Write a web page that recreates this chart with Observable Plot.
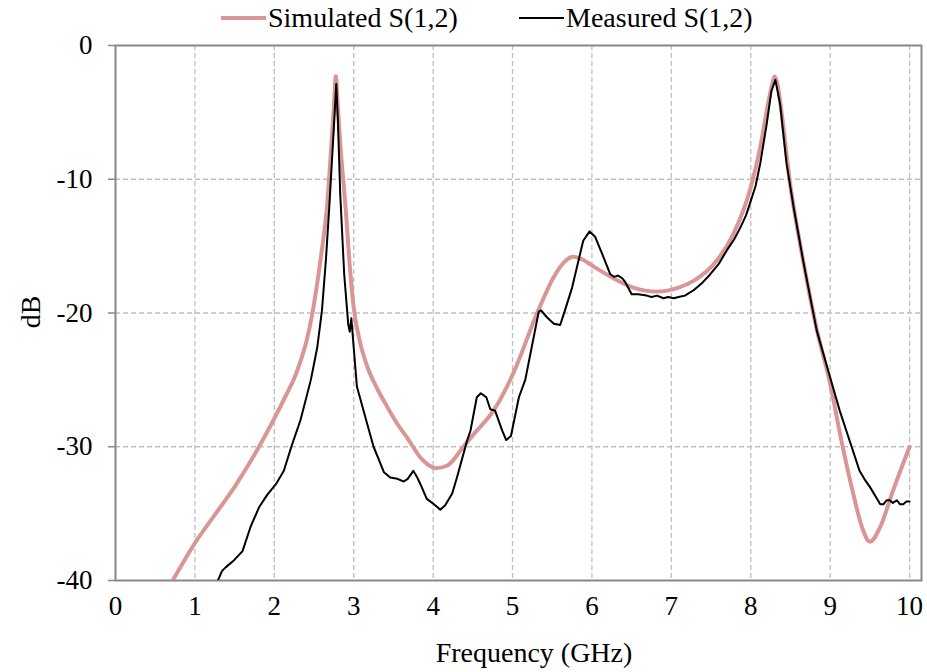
<!DOCTYPE html>
<html>
<head>
<meta charset="utf-8">
<script src="https://cdn.jsdelivr.net/npm/d3@7"></script>
<script src="https://cdn.jsdelivr.net/npm/@observablehq/plot@0.6"></script>
<style>
  body { margin: 0; background: white; }
  #wrap { position: relative; width: 927px; height: 672px; font-family: "Liberation Serif", "Times New Roman", serif; color: black; }
  #chart { position: absolute; left: 0; top: 0; }
  .leg { position: absolute; top: 2px; height: 32px; display: flex; align-items: center; font-size: 28px; white-space: nowrap; }
  .leg .sw { display: inline-block; width: 45px; margin-right: 2px; }
  .ttl { position: absolute; font-size: 28px; white-space: nowrap; line-height: 1; }
</style>
</head>
<body>
<div id="wrap">
  <div id="chart"></div>
  <div class="leg" style="left:221px"><span class="sw" style="height:4px;background:#D99694"></span>Simulated S(1,2)</div>
  <div class="leg" style="left:519px"><span class="sw" style="height:2px;background:#000"></span>Measured S(1,2)</div>
  <div class="ttl" id="xt" style="left:534px; top:639px; transform:translateX(-50%)">Frequency (GHz)</div>
  <div class="ttl" id="yt" style="left:31px; top:312px; transform:translate(-50%,-50%) rotate(-90deg)">dB</div>
</div>
<script>
const seriesNames = ["Simulated S(1,2)", "Measured S(1,2)"];
const xTicks = [0, 1, 2, 3, 4, 5, 6, 7, 8, 9, 10];
const yTicks = [0, -10, -20, -30, -40];

const simFreq = [0.6, 0.72, 1.0, 1.25, 1.5, 1.75, 1.99, 2.16, 2.25, 2.33, 2.41, 2.48, 2.58, 2.67, 2.72, 2.75, 2.775, 2.80, 2.83, 2.90, 2.95, 3.0, 3.08, 3.17, 3.3, 3.42, 3.55, 3.67, 3.84, 3.95, 4.03, 4.18, 4.38, 4.52, 4.76, 5.01, 5.31, 5.52, 5.65, 5.76, 5.88, 6.0, 6.27, 6.52, 6.82, 7.09, 7.28, 7.57, 7.78, 7.99, 8.12, 8.22, 8.27, 8.30, 8.34, 8.39, 8.49, 8.66, 8.83, 9.0, 9.14, 9.29, 9.40, 9.50, 9.63, 9.79, 10.0];
const simDb = [-41.2, -40.0, -37.2, -35.1, -33.0, -30.6, -28.0, -26.0, -24.9, -23.6, -22.0, -20.0, -16.1, -11.6, -7.3, -4.6, -2.3, -4.6, -7.3, -12.3, -16.5, -19.6, -22.2, -24.0, -25.7, -27.0, -28.3, -29.3, -30.8, -31.4, -31.6, -31.4, -30.0, -29.0, -27.3, -24.5, -20.0, -17.3, -16.2, -15.8, -16.0, -16.45, -17.4, -18.1, -18.4, -18.1, -17.6, -16.1, -14.1, -10.8, -7.6, -4.3, -2.9, -2.3, -3.0, -5.1, -10.1, -16.1, -21.2, -25.3, -29.5, -33.5, -36.0, -37.1, -36.0, -33.3, -30.0];

const measFreq = [1.25, 1.29, 1.34, 1.39, 1.49, 1.60, 1.70, 1.81, 1.91, 2.02, 2.12, 2.22, 2.33, 2.46, 2.54, 2.60, 2.65, 2.69, 2.75, 2.78, 2.80, 2.83, 2.88, 2.93, 2.95, 2.97, 3.0, 3.04, 3.17, 3.25, 3.38, 3.46, 3.55, 3.63, 3.68, 3.75, 3.80, 3.84, 3.92, 4.01, 4.09, 4.15, 4.24, 4.30, 4.36, 4.43, 4.47, 4.55, 4.60, 4.67, 4.72, 4.78, 4.87, 4.92, 4.98, 5.08, 5.16, 5.24, 5.33, 5.36, 5.43, 5.52, 5.60, 5.66, 5.75, 5.83, 5.89, 5.97, 6.04, 6.13, 6.23, 6.28, 6.33, 6.38, 6.42, 6.50, 6.58, 6.69, 6.75, 6.82, 6.90, 6.96, 7.03, 7.09, 7.17, 7.28, 7.38, 7.49, 7.60, 7.70, 7.79, 7.87, 7.94, 7.99, 8.06, 8.12, 8.20, 8.26, 8.31, 8.37, 8.45, 8.54, 8.66, 8.83, 8.96, 9.12, 9.27, 9.37, 9.44, 9.50, 9.58, 9.63, 9.67, 9.71, 9.75, 9.79, 9.84, 9.88, 9.92, 9.96, 10.0];
const measDb = [-40.5, -40.0, -39.3, -39.0, -38.5, -37.8, -36.0, -34.5, -33.6, -32.8, -31.8, -29.9, -28.0, -25.0, -22.6, -19.8, -16.0, -12.3, -6.1, -2.87, -5.5, -11.1, -17.1, -20.8, -21.4, -20.4, -22.6, -25.5, -28.3, -30.0, -31.9, -32.3, -32.4, -32.6, -32.4, -31.8, -32.3, -32.8, -33.9, -34.3, -34.7, -34.4, -33.5, -32.3, -31.0, -29.5, -28.8, -26.3, -26.0, -26.3, -27.2, -27.3, -28.8, -29.5, -29.2, -26.3, -25.0, -22.6, -19.9, -19.8, -20.3, -20.8, -20.9, -19.8, -18.1, -16.1, -14.6, -13.9, -14.3, -15.6, -17.1, -17.3, -17.2, -17.4, -17.7, -18.6, -18.6, -18.7, -18.8, -18.7, -18.9, -18.8, -18.9, -18.8, -18.7, -18.3, -17.8, -17.1, -16.3, -15.3, -14.5, -13.6, -12.7, -11.8, -10.5, -8.8, -5.9, -3.4, -2.57, -4.4, -8.8, -12.1, -16.1, -21.3, -24.0, -27.3, -30.0, -31.8, -32.5, -33.0, -33.8, -34.3, -34.3, -34.0, -34.0, -34.2, -34.0, -34.3, -34.3, -34.1, -34.1];

const sim = simFreq.map((f, i) => ({f, db: simDb[i], s: seriesNames[0]}));
const meas = measFreq.map((f, i) => ({f, db: measDb[i], s: seriesNames[1]}));

const chart = Plot.plot({
  width: 927,
  height: 672,
  marginTop: 45,
  marginBottom: 92,
  marginLeft: 115,
  marginRight: 6,
  x: {domain: [0, 10.15]},
  y: {domain: [-40, 0]},
  style: {fontFamily: "'Liberation Serif', serif", fontSize: "27px", background: "white", color: "black", overflow: "visible"},
  marks: [
    Plot.gridX(xTicks.slice(1), {stroke: "#bfbfbf", strokeOpacity: 1, strokeWidth: 1.3, strokeDasharray: "5,3"}),
    Plot.gridY(yTicks.slice(1, -1), {stroke: "#bfbfbf", strokeOpacity: 1, strokeWidth: 1.3, strokeDasharray: "5,3"}),
    Plot.axisX(xTicks, {tickSize: 0, tickPadding: 15, label: null, fill: "black", tickFormat: d => String(d)}),
    Plot.axisY(yTicks, {tickSize: 7, tickPadding: 16, label: null, stroke: "#888", fill: "black", strokeWidth: 1.5, tickFormat: d => String(d)}),
    Plot.frame({stroke: "#888", strokeWidth: 2}),
    Plot.line(sim, {x: "f", y: "db", stroke: "#D99694", strokeWidth: 4, curve: "monotone-x", clip: true}),
    Plot.line(meas, {x: "f", y: "db", stroke: "black", strokeWidth: 2, curve: "linear", clip: true})
  ]
});
document.getElementById("chart").appendChild(chart);
</script>
</body>
</html>
